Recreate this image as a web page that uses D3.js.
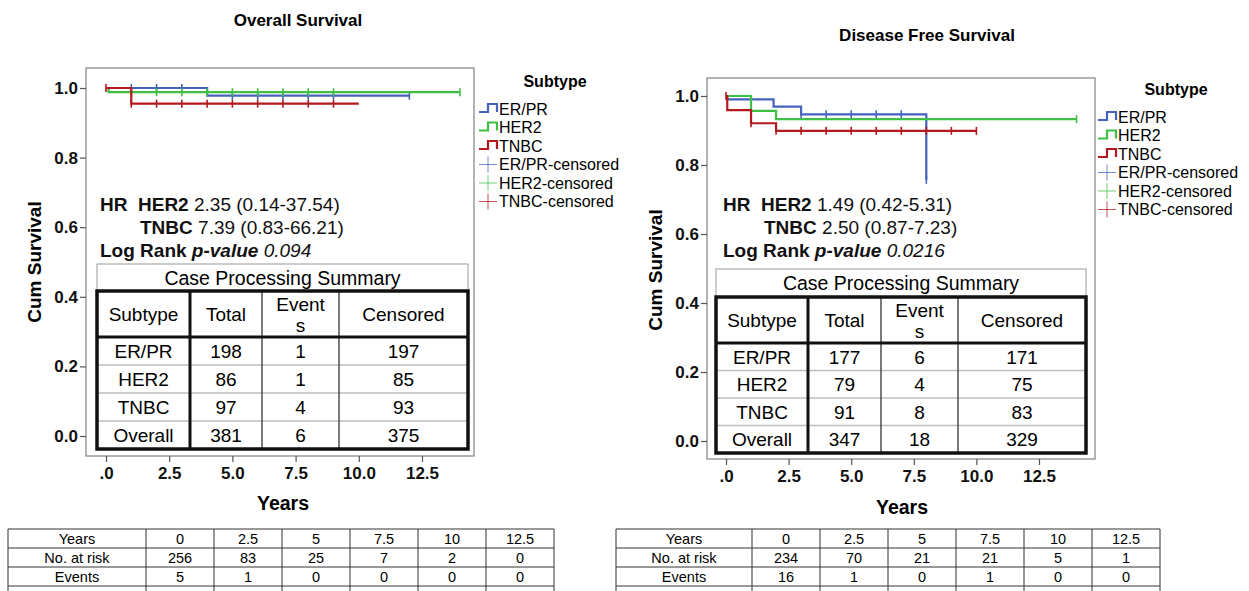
<!DOCTYPE html>
<html>
<head>
<meta charset="utf-8">
<script src="https://cdn.jsdelivr.net/npm/d3@7"></script>
<style>
  body { margin: 0; background: #fff; }
  svg { display: block; font-family: "Liberation Sans", Arial, sans-serif; }
</style>
</head>
<body>
<svg id="chart" width="1249" height="591"></svg>
<script>
// ---- data ----
const xTicks = [0, 2.5, 5, 7.5, 10, 12.5];
const yTicks = [0, 0.2, 0.4, 0.6, 0.8, 1.0];
const subtypes = ["ER/PR", "HER2", "TNBC"];

// Overall survival, step points [years, cum survival]
const osErprSteps = [[0, 1], [4.0, 0.978]];
const osErprEnd = 12.0;
const osErprCensor = [1, 2, 3, 5, 6, 7, 8, 9, 12];
const osHer2Steps = [[0, 1], [0.1, 0.988]];
const osHer2End = 14.0;
const osHer2Censor = [1, 2, 3, 4, 5, 6, 7, 8, 9, 14];
const osTnbcSteps = [[0, 1], [1.0, 0.955]];
const osTnbcEnd = 10.0;
const osTnbcCensor = [0, 1, 2, 3, 4, 5, 6, 7, 8, 9];

// Disease free survival
const dfsErprSteps = [[0, 1], [0.05, 0.99], [1.9, 0.969], [3.0, 0.947], [8.0, 0.757]];
const dfsErprEnd = 8.0;
const dfsErprCensor = [3, 4, 5, 6, 7, 8];
const dfsHer2Steps = [[0, 1], [1.0, 0.957], [2.0, 0.933]];
const dfsHer2End = 14.0;
const dfsHer2Censor = [14];
const dfsTnbcSteps = [[0, 1], [0.05, 0.959], [1.0, 0.921], [2.0, 0.899]];
const dfsTnbcEnd = 10.0;
const dfsTnbcCensor = [0, 1, 2, 3, 4, 5, 6, 7, 8, 9, 10];

// Case processing summaries
const caseHeader = ["Subtype", "Total", "Event\ns", "Censored"];
const osCaseRows = [["ER/PR", 198, 1, 197], ["HER2", 86, 1, 85], ["TNBC", 97, 4, 93], ["Overall", 381, 6, 375]];
const dfsCaseRows = [["ER/PR", 177, 6, 171], ["HER2", 79, 4, 75], ["TNBC", 91, 8, 83], ["Overall", 347, 18, 329]];

// Risk tables under the plots
const riskYears = ["0", "2.5", "5", "7.5", "10", "12.5"];
const osAtRisk = [256, 83, 25, 7, 2, 0];
const osEvents = [5, 1, 0, 0, 0, 0];
const dfsAtRisk = [234, 70, 21, 21, 5, 1];
const dfsEvents = [16, 1, 0, 1, 0, 0];

const colors = { "ER/PR": "#4563bd", "HER2": "#3fbf43", "TNBC": "#b3191d" };

const svg = d3.select("#chart");

// survival value at time t for a step series
function survAt(steps, t) {
  let s = steps[0][1];
  steps.forEach(p => { if (p[0] <= t) s = p[1]; });
  return s;
}

function drawPanel(cfg) {
  const g = svg.append("g");
  const x = d3.scaleLinear().domain([0, 12.5]).range([cfg.x0, cfg.x125]);
  const y = d3.scaleLinear().domain([0, 1]).range([cfg.y0, cfg.y1]);

  // title
  g.append("text").attr("x", cfg.titleX).attr("y", cfg.titleY)
    .attr("text-anchor", "middle").attr("font-size", 17).attr("font-weight", "bold")
    .text(cfg.title);

  // plot frame
  g.append("rect").attr("x", cfg.frame[0]).attr("y", cfg.frame[1])
    .attr("width", cfg.frame[2] - cfg.frame[0]).attr("height", cfg.frame[3] - cfg.frame[1])
    .attr("fill", "none").attr("stroke", "#9a9a9a").attr("stroke-width", 1.5);

  // axes
  const xAxis = g.append("g").attr("transform", `translate(0,${cfg.frame[3]})`)
    .call(d3.axisBottom(x).tickValues(xTicks).tickSize(6).tickPadding(5)
      .tickFormat(d => d === 0 ? ".0" : d.toFixed(1)));
  const yAxis = g.append("g").attr("transform", `translate(${cfg.frame[0]},0)`)
    .call(d3.axisLeft(y).tickValues(yTicks).tickSize(6).tickPadding(2)
      .tickFormat(d3.format(".1f")));
  [xAxis, yAxis].forEach(a => {
    a.select(".domain").remove();
    a.selectAll(".tick line").attr("stroke", "#555").attr("stroke-width", 1.2);
    a.selectAll(".tick text").attr("font-size", 17).attr("font-weight", "bold")
      .attr("fill", "#111").attr("font-family", "Liberation Sans, Arial, sans-serif");
  });

  g.append("text").attr("x", cfg.xLabel[0]).attr("y", cfg.xLabel[1])
    .attr("text-anchor", "middle").attr("font-size", 19.5).attr("font-weight", "bold")
    .text("Years");
  g.append("text").attr("transform", `translate(${cfg.yLabel[0]},${cfg.yLabel[1]}) rotate(-90)`)
    .attr("text-anchor", "middle").attr("font-size", 19).attr("font-weight", "bold")
    .text("Cum Survival");

  // curves
  const line = d3.line().x(d => x(d[0])).y(d => y(d[1])).curve(d3.curveStepAfter);
  cfg.series.forEach(s => {
    const pts = s.steps.concat([[s.end, s.steps[s.steps.length - 1][1]]]);
    g.append("path").datum(pts).attr("d", line)
      .attr("fill", "none").attr("stroke", colors[s.name]).attr("stroke-width", 2.2);
    g.selectAll(null).data(s.censor).enter().append("line")
      .attr("x1", d => x(d)).attr("x2", d => x(d))
      .attr("y1", d => y(survAt(s.steps, d)) - 4).attr("y2", d => y(survAt(s.steps, d)) + 4)
      .attr("stroke", colors[s.name]).attr("stroke-width", 1.6);
  });

  // HR annotation
  const hr = g.append("g").attr("font-size", 19).attr("fill", "#111");
  const t1 = hr.append("text").attr("x", cfg.hrX).attr("y", cfg.hrY);
  t1.append("tspan").attr("font-weight", "bold").text("HR\u00a0\u00a0HER2 ");
  t1.append("tspan").text(cfg.hr[0]);
  const t2 = hr.append("text").attr("x", cfg.hrX + cfg.tnbcIndent).attr("y", cfg.hrY + 23);
  t2.append("tspan").attr("font-weight", "bold").text("TNBC ");
  t2.append("tspan").text(cfg.hr[1]);
  const t3 = hr.append("text").attr("x", cfg.hrX).attr("y", cfg.hrY + 46);
  t3.append("tspan").attr("font-weight", "bold").text("Log Rank ");
  t3.append("tspan").attr("font-weight", "bold").attr("font-style", "italic").text("p-value ");
  t3.append("tspan").attr("font-style", "italic").text(cfg.pValue);

  // case processing summary table
  const cx = cfg.tableX, cy = cfg.tableY;
  const tb = g.append("g");
  tb.append("rect").attr("x", cx[0]).attr("y", cy[0]).attr("width", cx[4] - cx[0])
    .attr("height", cy[1] - cy[0]).attr("fill", "#fff").attr("stroke", "#999").attr("stroke-width", 1);
  tb.append("text").attr("x", (cx[0] + cx[4]) / 2).attr("y", (cy[0] + cy[1]) / 2 + 7)
    .attr("text-anchor", "middle").attr("font-size", 19.5).text("Case Processing Summary");
  // row separators (thin grey)
  for (let r = 3; r < cy.length - 1; r++) {
    tb.append("line").attr("x1", cx[0]).attr("x2", cx[4]).attr("y1", cy[r]).attr("y2", cy[r])
      .attr("stroke", "#bdbdbd").attr("stroke-width", 1.5);
  }
  // column lines
  [2, 3].forEach(c => tb.append("line").attr("x1", cx[c]).attr("x2", cx[c])
    .attr("y1", cy[1]).attr("y2", cy[cy.length - 1]).attr("stroke", "#333").attr("stroke-width", 1.3));
  tb.append("line").attr("x1", cx[1]).attr("x2", cx[1]).attr("y1", cy[1]).attr("y2", cy[cy.length - 1])
    .attr("stroke", "#111").attr("stroke-width", 3);
  tb.append("line").attr("x1", cx[0]).attr("x2", cx[4]).attr("y1", cy[2]).attr("y2", cy[2])
    .attr("stroke", "#111").attr("stroke-width", 3);
  tb.append("rect").attr("x", cx[0]).attr("y", cy[1]).attr("width", cx[4] - cx[0])
    .attr("height", cy[cy.length - 1] - cy[1]).attr("fill", "none").attr("stroke", "#111").attr("stroke-width", 3.5);
  // header
  caseHeader.forEach((h, i) => {
    const mid = (cx[i] + cx[i + 1]) / 2;
    const lines = h.split("\n");
    lines.forEach((l, k) => {
      const yy = (cy[1] + cy[2]) / 2 + 7 + (lines.length === 1 ? 0 : (k - 0.5) * 21);
      tb.append("text").attr("x", mid).attr("y", yy).attr("text-anchor", "middle")
        .attr("font-size", 19).text(l);
    });
  });
  cfg.caseRows.forEach((row, r) => {
    row.forEach((v, i) => {
      tb.append("text").attr("x", (cx[i] + cx[i + 1]) / 2).attr("y", (cy[r + 2] + cy[r + 3]) / 2 + 7)
        .attr("text-anchor", "middle").attr("font-size", 19).text(v);
    });
  });

  // legend
  const lg = g.append("g").attr("transform", `translate(${cfg.legend[0]},${cfg.legend[1]})`);
  lg.append("text").attr("x", cfg.legendTitleDx).attr("y", 0).attr("text-anchor", "middle")
    .attr("font-size", 16).attr("font-weight", "bold").text("Subtype");
  subtypes.forEach((s, i) => {
    const yy = 22 + i * 18.5;
    lg.append("path").attr("d", `M0,${yy + 3}H9V${yy - 5}H18V${yy + 3}`)
      .attr("fill", "none").attr("stroke", colors[s]).attr("stroke-width", 2.2);
    lg.append("text").attr("x", 20).attr("y", yy + 5.5).attr("font-size", 16).text(s);
  });
  subtypes.forEach((s, i) => {
    const yy = 22 + (i + 3) * 18.5;
    lg.append("line").attr("x1", 0).attr("x2", 18).attr("y1", yy).attr("y2", yy)
      .attr("stroke", colors[s]).attr("stroke-width", 1).attr("opacity", 0.75);
    lg.append("line").attr("x1", 9).attr("x2", 9).attr("y1", yy - 8).attr("y2", yy + 8)
      .attr("stroke", colors[s]).attr("stroke-width", 1).attr("opacity", 0.75);
    lg.append("text").attr("x", 20).attr("y", yy + 5.5).attr("font-size", 16).text(s + "-censored");
  });

  // risk table
  const rx = cfg.riskX, ry = cfg.riskY;
  const rt = g.append("g");
  const rows = [["Years"].concat(riskYears), ["No. at risk"].concat(cfg.atRisk), ["Events"].concat(cfg.events)];
  rx.forEach(v => rt.append("line").attr("x1", v).attr("x2", v).attr("y1", ry[0]).attr("y2", ry[ry.length - 1])
    .attr("stroke", "#333").attr("stroke-width", 1));
  ry.forEach(v => rt.append("line").attr("x1", rx[0]).attr("x2", rx[rx.length - 1]).attr("y1", v).attr("y2", v)
    .attr("stroke", "#333").attr("stroke-width", 1));
  rows.forEach((row, r) => row.forEach((v, i) => {
    rt.append("text").attr("x", (rx[i] + rx[i + 1]) / 2).attr("y", (ry[r] + ry[r + 1]) / 2 + 5)
      .attr("text-anchor", "middle").attr("font-size", 14.5).text(v);
  }));
}

drawPanel({
  title: "Overall Survival", titleX: 298, titleY: 26,
  x0: 106, x125: 422, y0: 436, y1: 88,
  frame: [86, 68, 474, 456],
  xLabel: [283, 510], yLabel: [41, 262],
  series: [
    { name: "ER/PR", steps: osErprSteps, end: osErprEnd, censor: osErprCensor },
    { name: "HER2", steps: osHer2Steps, end: osHer2End, censor: osHer2Censor },
    { name: "TNBC", steps: osTnbcSteps, end: osTnbcEnd, censor: osTnbcCensor }
  ],
  hrX: 100, hrY: 211, tnbcIndent: 40,
  hr: ["2.35 (0.14-37.54)", "7.39 (0.83-66.21)"], pValue: "0.094",
  tableX: [97, 190, 262, 339, 468], tableY: [264, 291, 337, 365, 393, 421, 449],
  caseRows: osCaseRows,
  legend: [479, 87], legendTitleDx: 76,
  riskX: [8, 146, 214, 282, 350, 418, 486, 554], riskY: [529, 548, 567, 586, 605],
  atRisk: osAtRisk, events: osEvents
});

drawPanel({
  title: "Disease Free Survival", titleX: 927, titleY: 41,
  x0: 726, x125: 1039, y0: 441, y1: 96,
  frame: [707, 78, 1095, 459],
  xLabel: [902, 514], yLabel: [662, 270],
  series: [
    { name: "ER/PR", steps: dfsErprSteps, end: dfsErprEnd, censor: dfsErprCensor },
    { name: "HER2", steps: dfsHer2Steps, end: dfsHer2End, censor: dfsHer2Censor },
    { name: "TNBC", steps: dfsTnbcSteps, end: dfsTnbcEnd, censor: dfsTnbcCensor }
  ],
  hrX: 723, hrY: 211, tnbcIndent: 41,
  hr: ["1.49 (0.42-5.31)", "2.50 (0.87-7.23)"], pValue: "0.0216",
  tableX: [716, 808, 881, 958, 1086], tableY: [269, 297, 343, 370.5, 398, 425.5, 453],
  caseRows: dfsCaseRows,
  legend: [1098, 95], legendTitleDx: 78,
  riskX: [616, 752, 820, 888, 956, 1024, 1092, 1160], riskY: [529, 548, 567, 586, 605],
  atRisk: dfsAtRisk, events: dfsEvents
});
</script>
</body>
</html>
